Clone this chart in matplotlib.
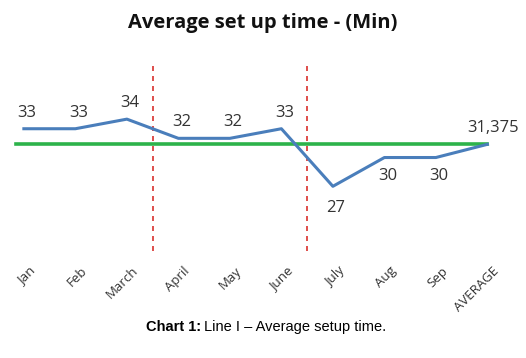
import numpy as np
import matplotlib.pyplot as plt
import matplotlib.transforms as mtransforms

# Data
months = ['Jan', 'Feb', 'March', 'April', 'May', 'June', 'July', 'Aug', 'Sep', 'AVERAGE']
setup_time = [33, 33, 34, 32, 32, 33, 27, 30, 30, 31.375]
value_labels = ['33', '33', '34', '32', '32', '33', '27', '30', '30', '31,375']
label_below = [False, False, False, False, False, False, True, True, True, False]
average = 31.375
dividers = [2.5, 5.5]

fig = plt.figure(figsize=(5.26, 3.58), dpi=100)
ax = fig.add_axes([0.016, 0.30, 0.94, 0.52])

x = np.arange(len(months))
ax.plot(x, setup_time, color='#4a7ebb', linewidth=2.2, zorder=3)
ax.plot([x[0] - 0.15, x[-1]], [average, average], color='#2db34a', linewidth=2.6, zorder=2)

for d in dividers:
    ax.axvline(d, color='#d9302c', linestyle=(0, (3, 3)), linewidth=1.2, zorder=1)

for xi, yi, lab, below in zip(x, setup_time, value_labels, label_below):
    dx = 6 if lab == '31,375' else 3
    dy = -18 if below else 16
    if lab == '27':
        dy = -22
    ax.annotate(lab, (xi, yi), xytext=(dx, dy), textcoords='offset pixels',
                ha='center', va='center', fontsize=12, family='Open Sans', color='#333333')

ax.set_xlim(-0.3, 9.3)
ax.set_ylim(20.3, 39.7)
ax.set_xticks(x)
ax.set_xticklabels(months, rotation=45, ha='right', va='top', rotation_mode='anchor',
                   fontsize=9.5, family='Open Sans', color='#333333')
ax.tick_params(axis='x', length=0, pad=10)
shift = mtransforms.ScaledTranslation(5 / 100, 0, fig.dpi_scale_trans)
for lbl in ax.get_xticklabels():
    lbl.set_transform(lbl.get_transform() + shift)
ax.set_yticks([])
for s in ax.spines.values():
    s.set_visible(False)

fig.text(0.5, 0.935, 'Average set up time - (Min)', ha='center', va='center',
         fontsize=14.5, fontweight='bold', family='Open Sans', color='#111111')

fig.text(0.382, 0.087, 'Chart 1:', ha='right', va='center', fontsize=10.5,
         fontweight='bold', family='Liberation Sans')
fig.text(0.388, 0.087, 'Line I \u2013 Average setup time.', ha='left', va='center',
         fontsize=10.5, family='Liberation Sans')

fig.savefig('out.png', dpi=100)
